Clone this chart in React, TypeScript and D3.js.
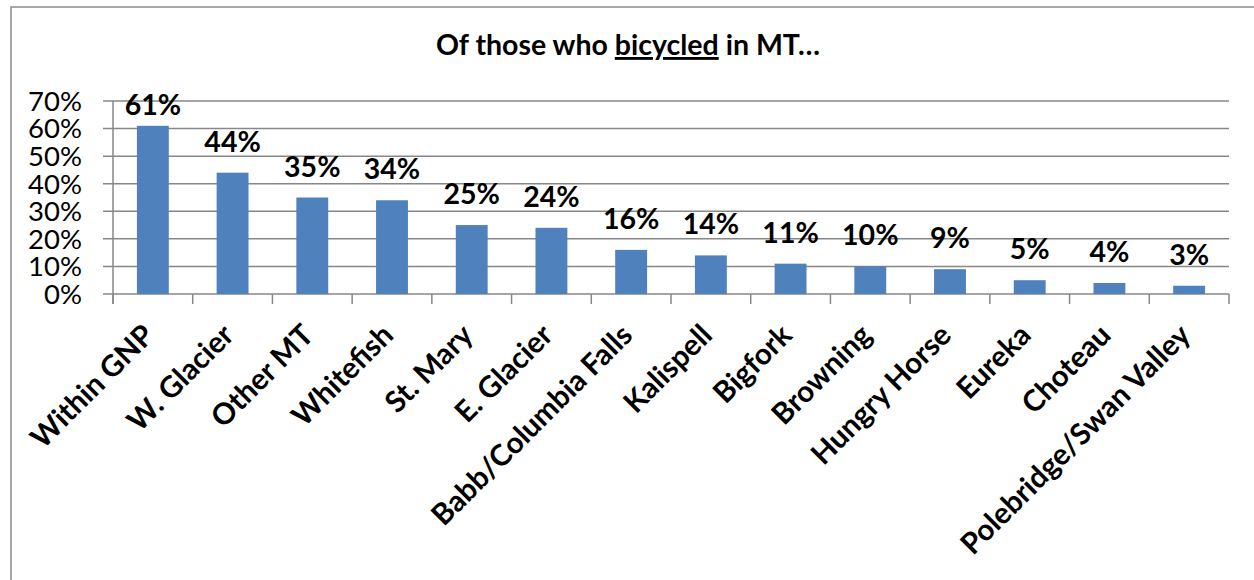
import React from "react";
import * as d3 from "d3";

const categories = [
  "Within GNP", "W. Glacier", "Other MT", "Whitefish", "St. Mary", "E. Glacier",
  "Babb/Columbia Falls", "Kalispell", "Bigfork", "Browning", "Hungry Horse",
  "Eureka", "Choteau", "Polebridge/Swan Valley",
];
const values = [61, 44, 35, 34, 25, 24, 16, 14, 11, 10, 9, 5, 4, 3];
const yTicks = [0, 10, 20, 30, 40, 50, 60, 70];

const W = 1254;
const H = 580;
const FONT = "Lato, 'Open Sans', sans-serif";

export default function App() {
  const x = d3.scaleBand<string>().domain(categories).range([113, 1229]).paddingInner(0.6).paddingOuter(0.3);
  const band = d3.scaleBand<string>().domain(categories).range([113, 1229]);
  const y = d3.scaleLinear().domain([0, 70]).range([294, 101]);
  const grid = "#878787";
  const bw = band.bandwidth();
  return (
    <svg width={W} height={H} style={{ position: "absolute", left: 0, top: 0, background: "#fff" }}>
      <rect x={11} y={7} width={1400} height={700} fill="#fff" stroke="#8c8c8c" strokeWidth={1.5} />
      <text x={628} y={55} textAnchor="middle" fontFamily={FONT} fontWeight={700} fontSize={28.5} fill="#000">
        Of those who <tspan textDecoration="underline" style={{ textDecoration: "underline" }}>bicycled</tspan> in MT…
      </text>
      {yTicks.map((t) => (
        <g key={t}>
          <line x1={103} x2={1229} y1={y(t)} y2={y(t)} stroke={grid} strokeWidth={1.5} />
          <text x={82} y={y(t)} dy="0.36em" textAnchor="end" fontFamily={FONT} fontSize={27.5} fill="#000">
            {t}%
          </text>
        </g>
      ))}
      <line x1={113} x2={113} y1={y(70)} y2={304} stroke={grid} strokeWidth={1.5} />
      {d3.range(categories.length + 1).map((i) => (
        <line key={i} x1={113 + i * bw} x2={113 + i * bw} y1={294} y2={304} stroke={grid} strokeWidth={1.5} />
      ))}
      {categories.map((c, i) => (
        <rect key={c} x={x(c)} y={y(values[i])} width={x.bandwidth()} height={y(0) - y(values[i])} fill="#4F81BD" />
      ))}
      {categories.map((c, i) => (
        <text
          key={"l" + c}
          x={(band(c) as number) + bw / 2}
          y={Math.max(y(values[i]) - 21, 115)}
          textAnchor="middle"
          fontFamily={FONT}
          fontWeight={700}
          fontSize={28.5}
          fill="#000"
        >
          {values[i]}%
        </text>
      ))}
      {categories.map((c) => {
        const cx = (band(c) as number) + bw / 2;
        return (
          <text
            key={"x" + c}
            transform={`translate(${cx + 3},${337}) rotate(-45)`}
            textAnchor="end"
            fontFamily={FONT}
            fontWeight={700}
            fontSize={29.5}
            fill="#000"
          >
            {c}
          </text>
        );
      })}
    </svg>
  );
}
